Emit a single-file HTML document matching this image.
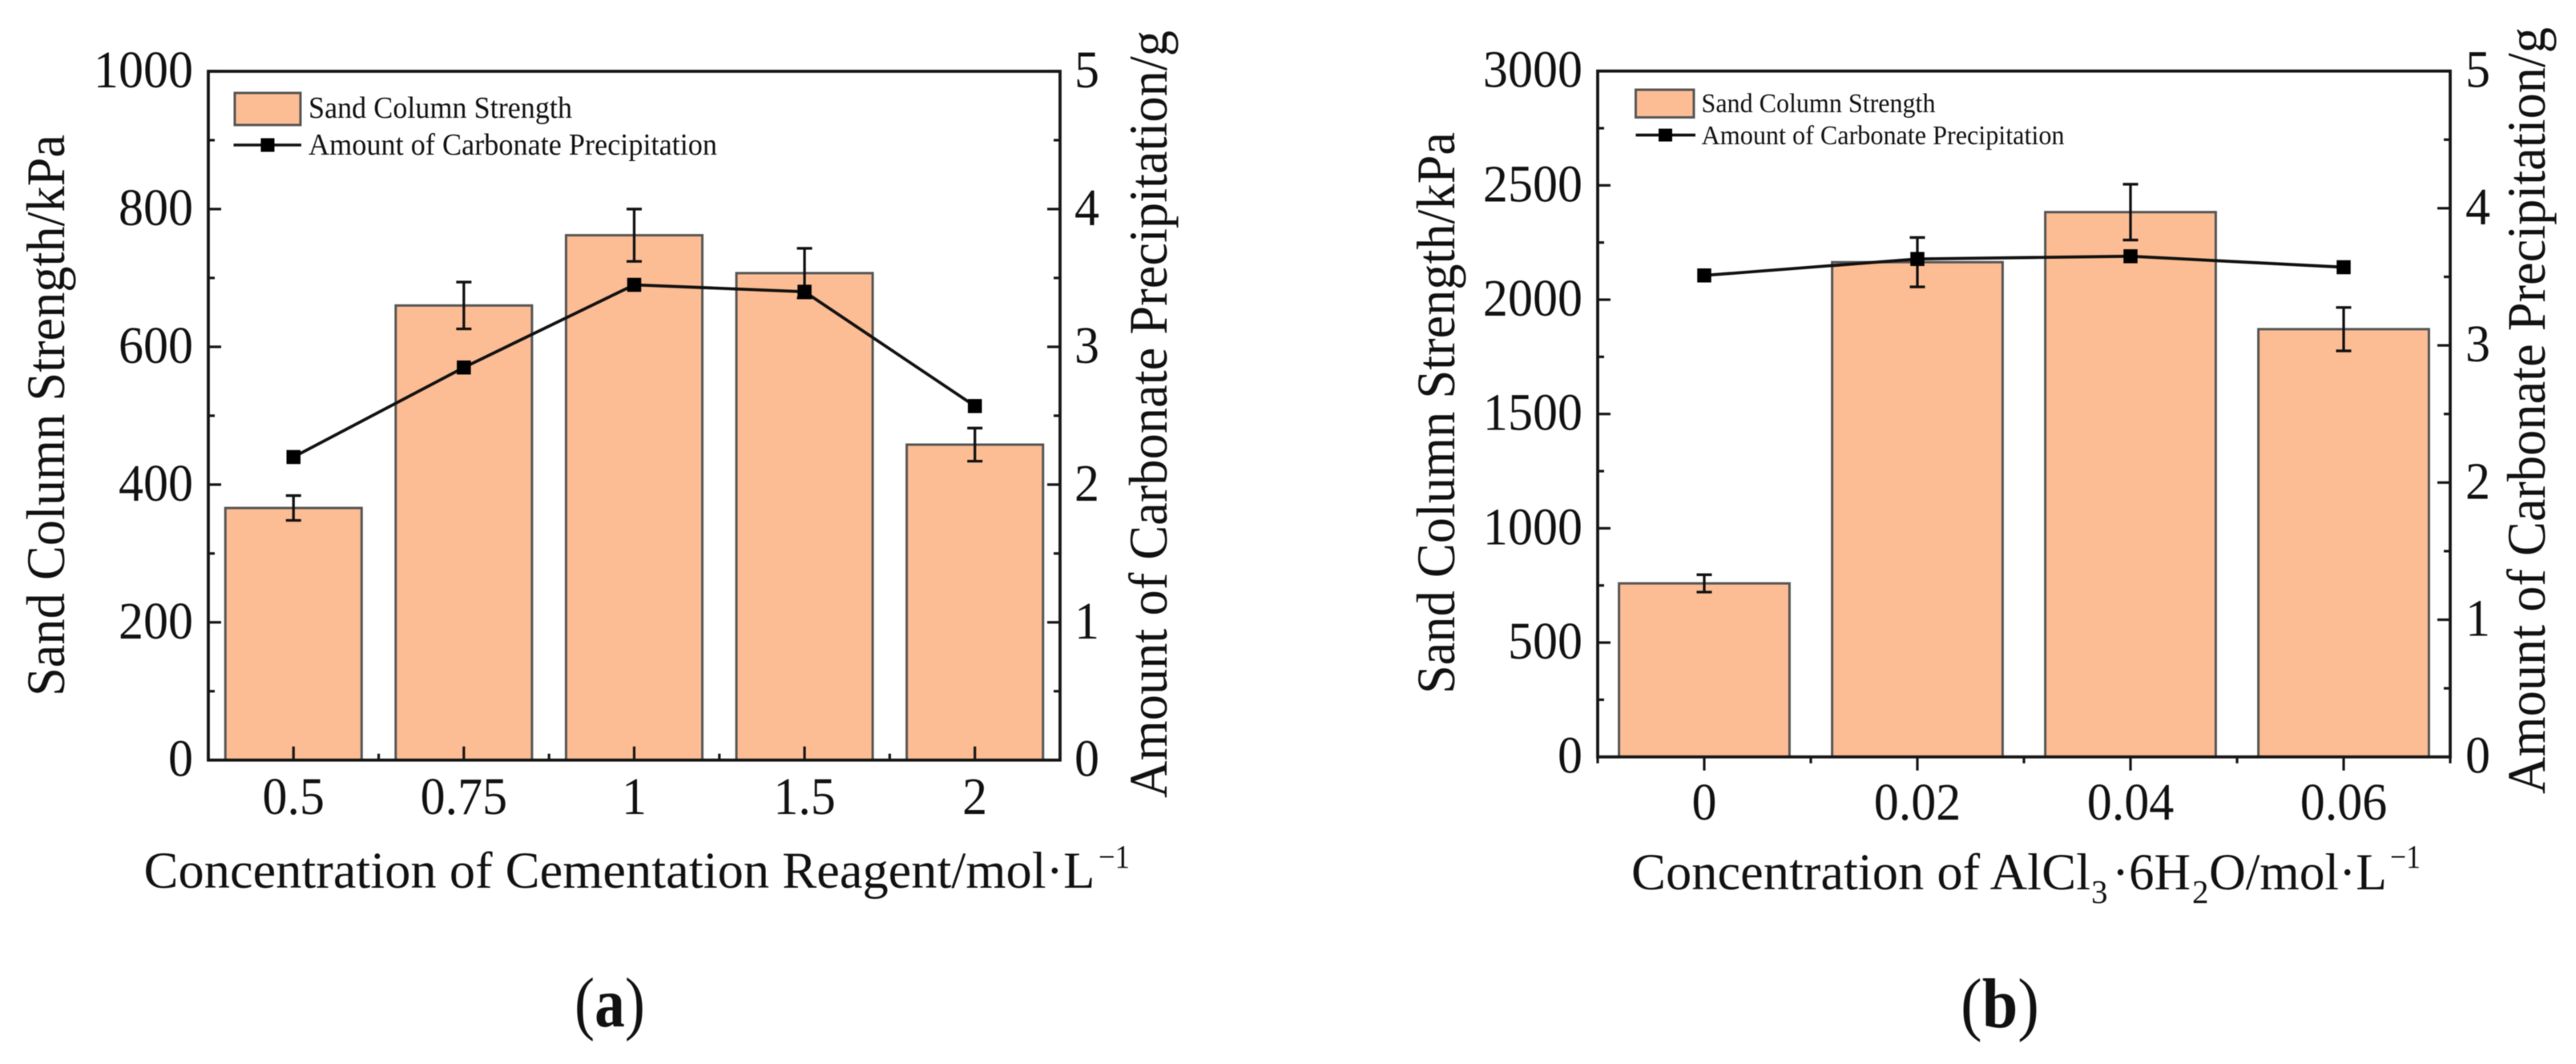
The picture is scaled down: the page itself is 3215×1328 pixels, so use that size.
<!DOCTYPE html>
<html lang="en">
<head>
<meta charset="utf-8">
<title>Sand column strength and carbonate precipitation</title>
<style>
html,body{margin:0;padding:0;background:#fff;width:3215px;height:1328px;overflow:hidden}
svg{display:block;filter:blur(0.6px)}
text{font-family:"Liberation Serif",serif;fill:#111}
</style>
</head>
<body>
<svg id="figure" xmlns="http://www.w3.org/2000/svg" width="3215" height="1328" viewBox="0 0 3215 1328">
  <rect width="3215" height="1328" fill="#fff"/>
  <g id="panel-a"></g>
  <g id="panel-b"></g>

  <text transform="translate(80,869) rotate(-90)" font-size="68" textLength="701" lengthAdjust="spacingAndGlyphs">Sand Column Strength/kPa</text>
  <text transform="translate(1456,996) rotate(-90)" font-size="68" textLength="958" lengthAdjust="spacingAndGlyphs">Amount of Carbonate Precipitation/g</text>
  <text x="179.5" y="1108" font-size="65" textLength="1187" lengthAdjust="spacingAndGlyphs">Concentration of Cementation Reagent/mol·L</text>
  <text x="1371" y="1083" font-size="41" textLength="39" lengthAdjust="spacingAndGlyphs">−1</text>

  <g>
    <rect x="293" y="116" width="82" height="40" fill="#fdbd94" stroke="#555" stroke-width="3"/>
    <text x="385" y="147" font-size="38" textLength="329" lengthAdjust="spacingAndGlyphs">Sand Column Strength</text>
    <line x1="291.5" x2="376" y1="181" y2="181" stroke="#111" stroke-width="3.6"/>
    <rect x="325.5" y="172.5" width="17" height="17" fill="#000"/>
    <text x="385" y="193" font-size="38" textLength="510" lengthAdjust="spacingAndGlyphs">Amount of Carbonate Precipitation</text>
  </g>

  <text x="717" y="1281" font-size="88" textLength="88" lengthAdjust="spacingAndGlyphs">(<tspan font-weight="bold">a</tspan>)</text>

  <text transform="translate(1815,866) rotate(-90)" font-size="68" textLength="701" lengthAdjust="spacingAndGlyphs">Sand Column Strength/kPa</text>
  <text transform="translate(3176,991) rotate(-90)" font-size="68" textLength="957" lengthAdjust="spacingAndGlyphs">Amount of Carbonate Precipitation/g</text>
  <g>
    <text x="2036" y="1110" font-size="65" textLength="573" lengthAdjust="spacingAndGlyphs">Concentration of AlCl</text>
    <text x="2610" y="1127" font-size="41">3</text>
    <text x="2636" y="1110" font-size="65" textLength="98" lengthAdjust="spacingAndGlyphs">·6H</text>
    <text x="2736" y="1127" font-size="41">2</text>
    <text x="2757" y="1110" font-size="65" textLength="222" lengthAdjust="spacingAndGlyphs">O/mol·L</text>
    <text x="2983" y="1083" font-size="41" textLength="38" lengthAdjust="spacingAndGlyphs">−1</text>
  </g>

  <g>
    <rect x="2041.5" y="112" width="72.5" height="34.5" fill="#fdbd94" stroke="#555" stroke-width="3"/>
    <text x="2123.5" y="140" font-size="34" textLength="292" lengthAdjust="spacingAndGlyphs">Sand Column Strength</text>
    <line x1="2041.5" x2="2116" y1="168.6" y2="168.6" stroke="#111" stroke-width="3.6"/>
    <rect x="2070" y="160.6" width="17" height="16" fill="#000"/>
    <text x="2123.5" y="180" font-size="34" textLength="453" lengthAdjust="spacingAndGlyphs">Amount of Carbonate Precipitation</text>
  </g>

  <text x="2447" y="1282" font-size="88" textLength="98" lengthAdjust="spacingAndGlyphs">(<tspan font-weight="bold">b</tspan>)</text>
</svg>
<script>
// Panel (a) data
const categoriesA = ['0.5', '0.75', '1', '1.5', '2'];
const strengthA = [366, 660, 762, 707, 458];
const strengthErrorA = [18, 34, 38, 36, 24];
const carbonateA = [2.2, 2.85, 3.45, 3.4, 2.57];
const leftTicksA = [0, 200, 400, 600, 800, 1000];
const leftMinorTicksA = [100, 300, 500, 700, 900];

// Panel (b) data
const categoriesB = ['0', '0.02', '0.04', '0.06'];
const strengthB = [759, 2164, 2383, 1871];
const strengthErrorB = [38, 108, 122, 95];
const carbonateB = [3.51, 3.63, 3.65, 3.57];
const leftTicksB = [0, 500, 1000, 1500, 2000, 2500, 3000];
const leftMinorTicksB = [250, 750, 1250, 1750, 2250, 2750];

// Shared right axis
const rightTicks = [0, 1, 2, 3, 4, 5];
const rightMinorTicks = [0.5, 1.5, 2.5, 3.5, 4.5];

const SVG_NS = 'http://www.w3.org/2000/svg';

function make(parent, tag, attrs, content) {
  const el = document.createElementNS(SVG_NS, tag);
  for (const k in attrs) el.setAttribute(k, attrs[k]);
  if (content !== undefined) el.textContent = content;
  parent.appendChild(el);
  return el;
}

function drawPanel(root, opt, categories, strength, strengthError, carbonate, leftTicks, leftMinor) {
  const { left, right, top, bottom, leftMax, rightMax, xInward } = opt;
  const stepX = (right - left) / categories.length;
  const xAt = i => left + stepX * (i + 0.5);
  const yLeft = v => bottom - v / leftMax * (bottom - top);
  const yRight = v => bottom - v / rightMax * (bottom - top);
  const barW = stepX * 0.8;
  const dark = '#161616';

  categories.forEach((c, i) => {
    const bar = make(root, 'rect', { x: xAt(i) - barW / 2, y: yLeft(strength[i]), width: barW, height: bottom - yLeft(strength[i]), fill: '#fdbd94', stroke: '#555', 'stroke-width': 3 });
    
    
  });

  const frame = make(root, 'rect', { x: left, y: top, width: right - left, height: bottom - top, fill: 'none', stroke: dark, 'stroke-width': 3.8 });
  
  

  leftTicks.forEach(v => {
    const y = yLeft(v);
    const tick = make(root, 'line', { x1: left, x2: left + 16, y1: y, y2: y, stroke: dark, 'stroke-width': 3.2 });
    
    
    const t = make(root, 'text', { transform: 'translate(' + opt.leftLabelX + ',' + (y + 20) + ') scale(.94,1)', 'text-anchor': 'end', 'font-size': 66 }, String(v));
    
    
  });
  leftMinor.forEach(v => {
    const y = yLeft(v);
    const tick = make(root, 'line', { x1: left, x2: left + 8, y1: y, y2: y, stroke: dark, 'stroke-width': 3.2 });
    
    
  });

  rightTicks.forEach(v => {
    const y = yRight(v);
    const tick = make(root, 'line', { x1: right - 16, x2: right, y1: y, y2: y, stroke: dark, 'stroke-width': 3.2 });
    
    
    const t = make(root, 'text', { transform: 'translate(' + opt.rightLabelX + ',' + (y + 20) + ') scale(.94,1)', 'font-size': 66 }, String(v));
    
    
  });
  rightMinorTicks.forEach(v => {
    const y = yRight(v);
    const tick = make(root, 'line', { x1: right - 8, x2: right, y1: y, y2: y, stroke: dark, 'stroke-width': 3.2 });
    
    
  });

  const dir = xInward ? -1 : 1;
  categories.forEach((c, i) => {
    const x = xAt(i);
    const tick = make(root, 'line', { x1: x, x2: x, y1: bottom, y2: bottom + dir * 17, stroke: dark, 'stroke-width': 3.2 });
    
    
    const t = make(root, 'text', { transform: 'translate(' + x + ',' + opt.xLabelY + ') scale(.94,1)', 'text-anchor': 'middle', 'font-size': 66 }, c);
    
    
  });
  for (let i = 0; i <= categories.length; i++) {
    const x = left + stepX * i;
    const tick = make(root, 'line', { x1: x, x2: x, y1: bottom, y2: bottom + dir * 8, stroke: dark, 'stroke-width': 3.2 });
    
    
  }

  categories.forEach((c, i) => {
    const x = xAt(i);
    const hi = yLeft(strength[i] + strengthError[i]);
    const lo = yLeft(strength[i] - strengthError[i]);
    const g = make(root, 'g', { stroke: '#111', 'stroke-width': 3.3, fill: 'none' });
    
    
    make(g, 'line', { x1: x, x2: x, y1: hi, y2: lo });
    make(g, 'line', { x1: x - 9.5, x2: x + 9.5, y1: hi, y2: hi });
    make(g, 'line', { x1: x - 9.5, x2: x + 9.5, y1: lo, y2: lo });
  });

  const points = carbonate.map((v, i) => xAt(i) + ',' + yRight(v)).join(' ');
  const line = make(root, 'polyline', { points: points, fill: 'none', stroke: '#111', 'stroke-width': 3.8 });
  
  
  carbonate.forEach((v, i) => {
    const m = make(root, 'rect', { x: xAt(i) - 8.75, y: yRight(v) - 8.75, width: 17.5, height: 17.5, fill: '#000' });
    
    
  });
}

drawPanel(document.getElementById('panel-a'),
  { left: 260, right: 1323, top: 89, bottom: 948.7, leftMax: 1000, rightMax: 5, xInward: true, leftLabelX: 241, rightLabelX: 1341, xLabelY: 1016 },
  categoriesA, strengthA, strengthErrorA, carbonateA, leftTicksA, leftMinorTicksA);

drawPanel(document.getElementById('panel-b'),
  { left: 1994, right: 3058, top: 88.7, bottom: 944.7, leftMax: 3000, rightMax: 5, xInward: false, leftLabelX: 1975, rightLabelX: 3077, xLabelY: 1023 },
  categoriesB, strengthB, strengthErrorB, carbonateB, leftTicksB, leftMinorTicksB);
</script>
</body>
</html>
